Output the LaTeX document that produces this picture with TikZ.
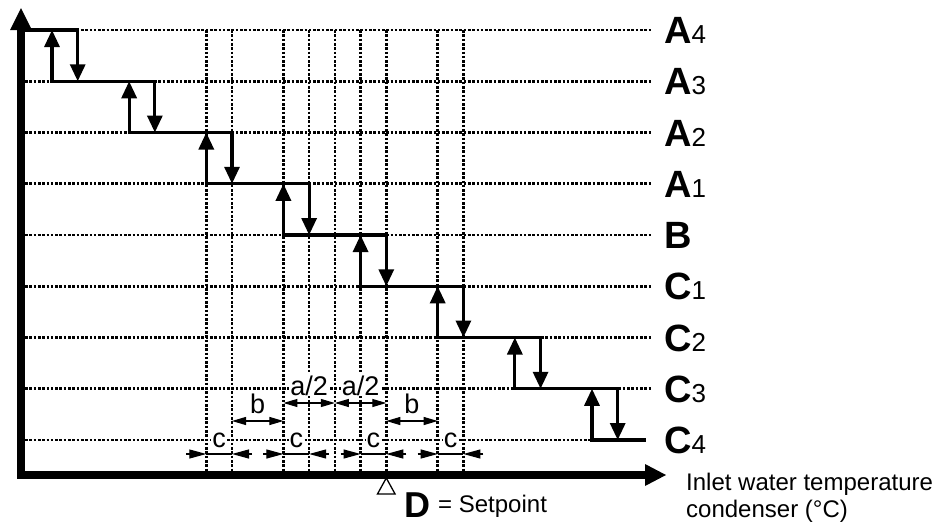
\documentclass[tikz,border=0pt]{standalone}
\usepackage{fontspec}
\setmainfont{Liberation Sans}
\usetikzlibrary{arrows.meta}
\begin{document}
\begin{tikzpicture}[x=1pt,y=-1pt,
  gridline/.style={line width=2.6pt, dash pattern=on 2.6pt off 1.7pt},
  stepline/.style={line width=3.2pt},
  steparrow/.style={line width=3.2pt, -{Triangle[length=17pt,width=15pt]}},
  dimline/.style={line width=1.1pt},
  ctip/.style={dimline, -{Triangle[length=17pt,width=9pt]}},
  bdim/.style={dimline, {Triangle[length=14pt,width=8pt]}-{Triangle[length=14pt,width=8pt]}},
  lvl/.style={anchor=base west, inner sep=0pt, font=\fontsize{38}{38}\selectfont\bfseries},
  dimlabel/.style={anchor=base, inner sep=1pt, fill=white, font=\fontsize{27}{27}\selectfont},
  plain/.style={anchor=base west, inner sep=0pt, font=\fontsize{24}{24}\selectfont},
]
\useasboundingbox (0,0) rectangle (938,523);
\def\s{25.714}
% vertical grid
\foreach \n in {6,7,9,10,11,12,13,15,16}
  \draw[gridline] ({52+\s*\n},30) -- ({52+\s*\n},471);
% horizontal grid
\foreach \k in {0,...,7}
  \draw[gridline] (25,{30+51.25*\k}) -- (652,{30+51.25*\k});
\draw[gridline] (25,440) -- (592,440);
% level labels
\foreach \lab/\sub [count=\i from 0] in {A/4,A/3,A/2,A/1,B/{},C/1,C/2,C/3,C/4}
  \node[lvl] (lab\i) at (664,{30+51.25*\i+13.5}) {\lab{\fontsize{26}{26}\selectfont\mdseries\sub}};
% step arrows
\foreach \k in {1,...,8} {
  \pgfmathsetmacro\xu{52+\s*3*(\k-1)}
  \pgfmathsetmacro\xd{\xu+\s}
  \pgfmathsetmacro\myLt{30+51.25*(\k-1)}
  \pgfmathsetmacro\myLb{30+51.25*\k}
  \draw[steparrow] (\xu,\myLb) -- (\xu,\myLt);
  \draw[steparrow] (\xd,\myLt) -- (\xd,\myLb);
}
% step horizontals
\draw[stepline] (21,30) -- ({52+\s+1.6},30);
\foreach \k in {1,...,7} {
  \pgfmathsetmacro\xu{52+\s*3*(\k-1)}
  \pgfmathsetmacro\xn{52+\s*3*\k+\s}
  \draw[stepline] ({\xu-1.6},{30+51.25*\k}) -- ({\xn+1.6},{30+51.25*\k});
}
\draw[stepline] ({52+\s*21-1.6},440) -- (646,440);
% axes
\draw[line width=8pt, line join=miter] (21,29) -- (21,475) -- (646,475);
\fill (10,30) -- (32,30) -- (21,8) -- cycle;
\fill (645,464) -- (645,486) -- (666,475) -- cycle;
% c dimensions
\foreach \n in {6,9,12,15} {
  \pgfmathsetmacro\xa{52+\s*\n}
  \pgfmathsetmacro\xb{\xa+\s}
  \draw[ctip] ({\xa-20},454) -- (\xa,454);
  \draw[ctip] ({\xb+20},454) -- (\xb,454);
  \draw[dimline] (\xa,454) -- (\xb,454);
  \node[dimlabel] at ({(\xa+\xb)/2},447) {c};
}
% b dimensions
\foreach \n in {7,13} {
  \pgfmathsetmacro\xa{52+\s*\n}
  \pgfmathsetmacro\xb{\xa+2*\s}
  \draw[bdim] (\xa,421) -- (\xb,421);
  \node[dimlabel, fill=none] at ({(\xa+\xb)/2},413) {b};
}
% a/2 dimensions
\foreach \n in {9,11} {
  \pgfmathsetmacro\xa{52+\s*\n}
  \pgfmathsetmacro\xb{\xa+2*\s}
  \draw[bdim] (\xa,403) -- (\xb,403);
  \node[dimlabel] at ({(\xa+\xb)/2},395) {a/2};
}
% setpoint
\draw[line width=1.3pt, fill=white] ({52+\s*13},478) -- ({52+\s*13-8.8},494) -- ({52+\s*13+8.8},494) -- cycle;
\node[anchor=base west, inner sep=0pt, font=\fontsize{36}{36}\selectfont\bfseries] (D) at (404,517) {D};
\node[anchor=base west, inner sep=0pt, font=\fontsize{24}{24}\selectfont] (sp) at (438,512) {= Setpoint};
% x axis label
\node[plain] (xl1) at (686,490) {Inlet water temperature};
\node[plain] (xl2) at (686,517) {condenser (°C)};
\end{tikzpicture}
\end{document}
